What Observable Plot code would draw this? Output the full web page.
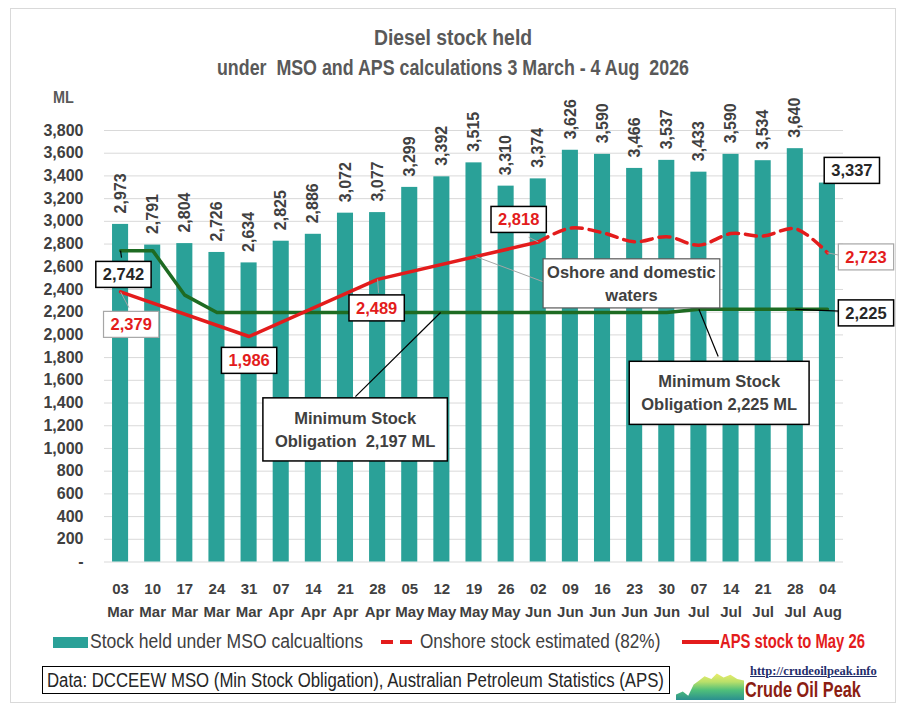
<!DOCTYPE html>
<html><head><meta charset="utf-8">
<script src="https://cdn.jsdelivr.net/npm/d3@7"></script>
<script src="https://cdn.jsdelivr.net/npm/@observablehq/plot@0.6"></script>
<style>
html,body{margin:0;padding:0;background:#fff;}
body{width:906px;height:712px;position:relative;overflow:hidden;font-family:"Liberation Sans",Arial,sans-serif;}
#frame{position:absolute;left:10px;top:8px;width:886px;height:695px;border:1px solid #d9d9d9;box-sizing:border-box;}
.title{position:absolute;left:0;width:906px;text-align:center;color:#595959;font-weight:bold;white-space:pre;transform-origin:453px 50%;}
#t1{top:25px;font-size:22px;transform:scaleX(0.88);}
#t2{top:55px;font-size:22px;transform:scaleX(0.81);}
#ml{position:absolute;left:53px;top:89px;font-size:16px;font-weight:bold;color:#595959;transform:scaleX(0.9);transform-origin:left;}
#chart{position:absolute;left:0;top:80px;}
.lg{position:absolute;top:630px;font-size:19.5px;color:#404040;white-space:nowrap;line-height:22px;transform-origin:0 50%;}
.sw{position:absolute;}
#databox{position:absolute;left:42px;top:666px;width:628px;height:28px;border:1.5px solid #000;box-sizing:border-box;}
#datatext{position:absolute;left:4px;top:1px;font-size:19.5px;color:#262626;line-height:24px;white-space:nowrap;transform:scaleX(0.86);transform-origin:0 50%;}
#logo{position:absolute;left:676px;top:672px;width:68px;height:28px;background:linear-gradient(to bottom,#f4ef6a 0%,#b9e06a 35%,#4fbf7a 65%,#2a8f8f 100%);clip-path:polygon(0% 100%,0% 80%,10% 70%,18% 85%,26% 45%,34% 30%,42% 15%,52% 25%,60% 5%,70% 20%,80% 10%,90% 25%,100% 30%,100% 100%);}
#url{position:absolute;left:750px;top:664px;font-family:"Liberation Serif","DejaVu Serif",serif;font-weight:bold;font-size:12.5px;color:#1f2d6b;text-decoration:underline;white-space:nowrap;}
#cop{position:absolute;left:745px;top:677px;font-size:22px;font-weight:bold;color:#8b1e12;white-space:nowrap;transform:scaleX(0.74);transform-origin:0 50%;}
</style>
</head><body>
<div id="frame"></div>
<div class="title" id="t1">Diesel stock held</div>
<div class="title" id="t2">under  MSO and APS calculations 3 March - 4 Aug  2026</div>
<div id="ml">ML</div>
<div id="chart"></div>

<div class="sw" style="left:53px;top:637px;width:35px;height:11px;background:#2aa198;"></div>
<div class="lg" style="left:90px;transform:scaleX(0.9);">Stock held under MSO calcualtions</div>
<div class="sw" style="left:381px;top:640px;width:12px;height:3.5px;background:#e31c1c;"></div>
<div class="sw" style="left:400px;top:640px;width:12px;height:3.5px;background:#e31c1c;"></div>
<div class="lg" style="left:420px;transform:scaleX(0.88);">Onshore stock estimated (82%)</div>
<div class="sw" style="left:682px;top:640px;width:37px;height:3.5px;background:#e31c1c;"></div>
<div class="lg" style="left:720px;color:#e31c1c;font-weight:bold;transform:scaleX(0.76);">APS stock to May 26</div>

<div id="databox"><div id="datatext">Data: DCCEEW MSO (Min Stock Obligation), Australian Petroleum Statistics (APS)</div></div>
<div id="logo"></div>
<div id="url">http://crudeoilpeak.info</div>
<div id="cop">Crude Oil Peak</div>

<script>
// ---- data ----
const weeks = ["03 Mar","10 Mar","17 Mar","24 Mar","31 Mar","07 Apr","14 Apr","21 Apr","28 Apr","05 May","12 May","19 May","26 May","02 Jun","09 Jun","16 Jun","23 Jun","30 Jun","07 Jul","14 Jul","21 Jul","28 Jul","04 Aug"];
const stockMSO = [2973,2791,2804,2726,2634,2825,2886,3072,3077,3299,3392,3515,3310,3374,3626,3590,3466,3537,3433,3590,3534,3640,3337];
const msoMinimum = [2742,2742,2350,2197,2197,2197,2197,2197,2197,2197,2197,2197,2197,2197,2197,2197,2197,2197,2225,2225,2225,2225,2225];
const apsWeeks = ["03 Mar","31 Mar","28 Apr","02 Jun"];
const apsStock = [2379,1986,2489,2818];
const onshoreWeeks = ["02 Jun","09 Jun","16 Jun","23 Jun","30 Jun","07 Jul","14 Jul","21 Jul","28 Jul","04 Aug"];
const onshoreStock = [2818,2940,2900,2820,2865,2790,2892,2870,2935,2723];
const yTicks = [0,200,400,600,800,1000,1200,1400,1600,1800,2000,2200,2400,2600,2800,3000,3200,3400,3600,3800];

// ---- annotations (anchored in data units) ----
const notesRedBlack = [
  {text:"1,986", x:4.0, y:1788},
  {text:"2,489", x:7.97, y:2250},
  {text:"2,818", x:12.39, y:3029}
];
const notesRedGray = [
  {text:"2,379", x:0.33, y:2105},
  {text:"2,723", x:23.2, y:2699}
];
const notesDark = [
  {text:"2,742", x:0.09, y:2545},
  {text:"2,225", x:23.2, y:2206},
  {text:"3,337", x:22.76, y:3461}
];
const notesBig = [
  {text:"Minimum Stock\nObligation  2,197 ML", x:7.3, y:1180},
  {text:"Minimum Stock\nObligation 2,225 ML", x:18.63, y:1502}
];
const notesWaters = [
  {text:"Oshore and domestic\nwaters", x:15.9, y:2466}
];
const leadersGray = [
  {x1:0, y1:2379, x2:0.26, y2:2240},
  {x1:8, y1:2489, x2:8.03, y2:2370},
  {x1:13, y1:2818, x2:12.7, y2:2860},
  {x1:22, y1:2723, x2:22.4, y2:2700},
  {x1:11.05, y1:2690, x2:13.22, y2:2461}
];
const leadersBlack = [
  {x1:0, y1:2742, x2:0.03, y2:2680},
  {x1:21, y1:2225, x2:22.4, y2:2210},
  {x1:9.96, y1:2197, x2:7.31, y2:1457},
  {x1:18, y1:2225, x2:18.6, y2:1810}
];

const fmt = d3.format(",");
const idx = w => weeks.indexOf(w);
const RED = "#e31c1c", GREEN = "#1e6b22", TEAL = "#2aa198";
const boxStyle = {fontSize:16.5, fontWeight:"bold", lineHeight:1.4};

const plot = Plot.plot({
  width: 906, height: 540,
  marginLeft: 104, marginRight: 63, marginTop: 50, marginBottom: 58.5,
  x: {type: "linear", domain: [-0.5, 22.5]},
  y: {domain: [0, 3800]},
  style: {fontFamily: "'Liberation Sans', Arial, sans-serif", color: "#404040", overflow: "visible", background: "transparent"},
  marks: [
    Plot.ruleY(yTicks, {stroke: "#d9d9d9", strokeWidth: 1}),
    Plot.axisY({ticks: yTicks, tickFormat: d => d === 0 ? "-" : fmt(d), tickSize: 0, tickPadding: 21, fontSize: 16, fontWeight: "bold", label: null}),
    Plot.axisX({ticks: weeks.map((w, i) => i), tickFormat: i => weeks[i].replace(" ", "\n"), tickSize: 0, tickPadding: 16, fontSize: 15, fontWeight: "bold", lineHeight: 1.53, label: null}),
    Plot.rectY(stockMSO, {x1: (d, i) => i - 0.25, x2: (d, i) => i + 0.25, y: d => d, fill: TEAL}),
    Plot.text(stockMSO.slice(0, 22), {x: (d, i) => i, y: d => d, text: d => fmt(d), rotate: -90, textAnchor: "start", dy: -11, fontSize: 16, fontWeight: "bold", fill: "#404040"}),
    Plot.line(msoMinimum, {x: (d, i) => i, y: d => d, stroke: GREEN, strokeWidth: 3.5}),
    Plot.line(apsWeeks, {x: idx, y: (d, i) => apsStock[i], stroke: RED, strokeWidth: 3.5}),
    Plot.line(onshoreWeeks, {x: idx, y: (d, i) => onshoreStock[i], stroke: RED, strokeWidth: 3.5, strokeDasharray: "11,7", curve: "catmull-rom"}),
    Plot.link(leadersGray, {x1: "x1", y1: "y1", x2: "x2", y2: "y2", stroke: "#a6a6a6", strokeWidth: 1}),
    Plot.link(leadersBlack, {x1: "x1", y1: "y1", x2: "x2", y2: "y2", stroke: "#000", strokeWidth: 1.2}),
    Plot.text(notesRedBlack, {x: "x", y: "y", text: "text", fill: RED, ariaLabel: () => "box-redblack", ...boxStyle}),
    Plot.text(notesRedGray, {x: "x", y: "y", text: "text", fill: RED, ariaLabel: () => "box-redgray", ...boxStyle}),
    Plot.text(notesDark, {x: "x", y: "y", text: "text", fill: "#262626", ariaLabel: () => "box-dark", ...boxStyle}),
    Plot.text(notesBig, {x: "x", y: "y", text: "text", fill: "#404040", ariaLabel: () => "box-big", ...boxStyle}),
    Plot.text(notesWaters, {x: "x", y: "y", text: "text", fill: "#404040", ariaLabel: () => "box-waters", ...boxStyle})
  ]
});
document.getElementById("chart").append(plot);

const boxes = {
  "box-redblack": {px: 7, py: 4, stroke: "#000", sw: 1.5},
  "box-redgray": {px: 7, py: 4, stroke: "#a6a6a6", sw: 1.2},
  "box-dark": {px: 7, py: 4, stroke: "#000", sw: 1.5},
  "box-big": {px: 12, py: 11, stroke: "#000", sw: 1.5},
  "box-waters": {px: 4, py: 4, stroke: "#595959", sw: 1.2}
};
const NS = "http://www.w3.org/2000/svg";
for (const [label, st] of Object.entries(boxes)) {
  plot.querySelectorAll(`text[aria-label="${label}"]`).forEach(t => {
    const b = t.getBBox();
    const r = document.createElementNS(NS, "rect");
    r.setAttribute("x", b.x - st.px);
    r.setAttribute("y", b.y - st.py);
    r.setAttribute("width", b.width + 2 * st.px);
    r.setAttribute("height", b.height + 2 * st.py);
    r.setAttribute("fill", "#fff");
    r.setAttribute("stroke", st.stroke);
    r.setAttribute("stroke-width", st.sw);
    if (t.getAttribute("transform")) r.setAttribute("transform", t.getAttribute("transform"));
    t.parentNode.insertBefore(r, t);
  });
}
</script>
</body></html>
